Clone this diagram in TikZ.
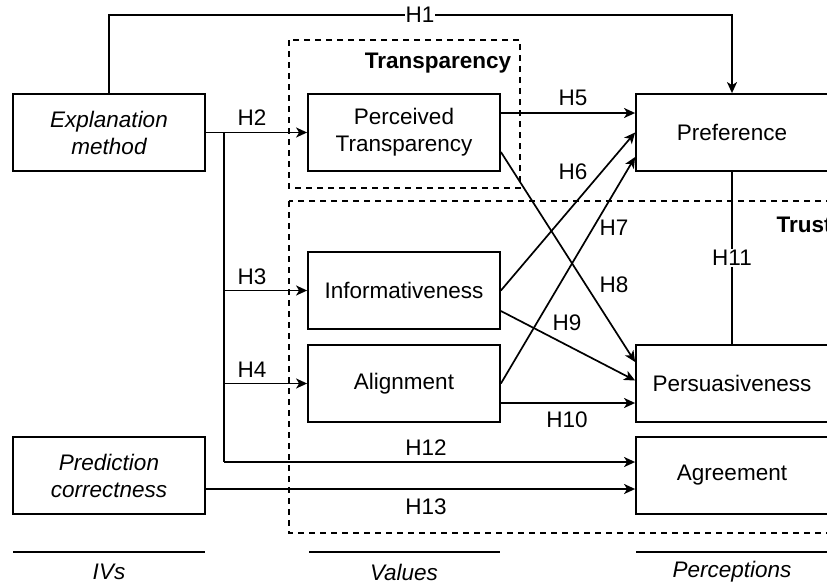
\documentclass[tikz,border=0pt]{standalone}
\usepackage{fontspec}
\setmainfont{Liberation Sans}
\usetikzlibrary{arrows.meta}
\begin{document}
\begin{tikzpicture}[x=1pt,y=-1pt,
  font=\fontsize{22.5}{27}\selectfont,
  box/.style={draw,line width=1.8pt,fill=white,minimum width=192pt,minimum height=77pt,inner sep=0pt,align=center},
  group/.style={draw,line width=1.4pt,dash pattern=on 6pt off 5pt},
  conn/.style={line width=1.7pt},
  arr/.style={conn,-{Stealth[length=11pt,width=10pt,inset=3pt]}},
  lbl/.style={inner sep=1pt},
  rule/.style={line width=1.7pt}]
\clip (0,0) rectangle (827,584);

% dashed groups
\draw[group] (289,40) rectangle (520,188);
\node[font=\fontsize{22.5}{27}\selectfont\bfseries] (ttransp) at (438,63) {Transparency};
\draw[group] (289,201) rectangle (850,533);
\node[font=\fontsize{22.5}{27}\selectfont\bfseries,anchor=west] (ttrust) at (773,225) {Trust};

% boxes
\node[box] (em)   at (109,132.5) {\itshape Explanation\\\itshape method};
\node[box] (pc)   at (109,475.5) {\itshape Prediction\\\itshape correctness};
\node[box] (pt)   at (404,132.5) {Perceived\\Transparency};
\node[box] (inf)  at (404,290.5) {Informativeness};
\node[box] (aln)  at (404,383.5) {Alignment};
\node[box] (pref) at (732,132.5) {Preference};
\node[box] (pers) at (732,383.5) {Persuasiveness};
\node[box] (agr)  at (732,475.5) {Agreement};

% H1
\coordinate (h1) at (420,15);
\draw[arr] (em.north) |- (h1) node[lbl,fill=white] {H1} -| (pref.north);

% trunk from the explanation method
\coordinate (trunk) at (224,132.5);
\draw[arr] (em.east) -- (pt.west);
\coordinate (h12corner) at (224,462);
\draw[conn] (trunk) -- (h12corner);
\draw[arr] (trunk |- inf.west) -- (inf.west);
\draw[arr] (trunk |- aln.west) -- (aln.west);
\draw[arr] (h12corner) -- ([yshift=13.5pt]agr.west);
\draw[arr] ([yshift=-13.5pt]pc.east) -- ([yshift=-13.5pt]agr.west);

% values to perceptions
\draw[arr] ([yshift=19.5pt]pt.east) -- ([yshift=19.5pt]pref.west);
\draw[arr] ([yshift=-19.5pt]pt.east) -- ([yshift=21.5pt]pers.west);
\draw[arr] (inf.east) -- (pref.west);
\draw[arr] ([yshift=-20.5pt]inf.east) -- ([yshift=3pt]pers.west);
\draw[arr] (aln.east) -- ([yshift=-24.5pt]pref.west);
\draw[arr] ([yshift=-19.5pt]aln.east) -- ([yshift=-19.5pt]pers.west);
\draw[conn] (pref.south) -- node[lbl,fill=white] {H11} (pers.north);

% hypothesis labels
\node[lbl] (l2)  at (252,118) {H2};
\node[lbl] (l3)  at (252,277) {H3};
\node[lbl] (l4)  at (252,370) {H4};
\node[lbl] (l5)  at (573,98)  {H5};
\node[lbl] (l6)  at (573,172) {H6};
\node[lbl] (l7)  at (614,228) {H7};
\node[lbl] (l8)  at (614,285) {H8};
\node[lbl] (l9)  at (567,323) {H9};
\node[lbl] (l10) at (567,420) {H10};
\node[lbl] (l12) at (426,448) {H12};
\node[lbl] (l13) at (426,507) {H13};

% column captions
\draw[rule] (13,552) -- (205,552);
\draw[rule] (309,552) -- (500,552);
\draw[rule] (636,552) -- (828,552);
\node (civ)   at (109,572) {\itshape IVs};
\node (cval)  at (404,572) {\itshape Values};
\node (cperc) at (732,572) {\itshape Perceptions};
\end{tikzpicture}
\end{document}
